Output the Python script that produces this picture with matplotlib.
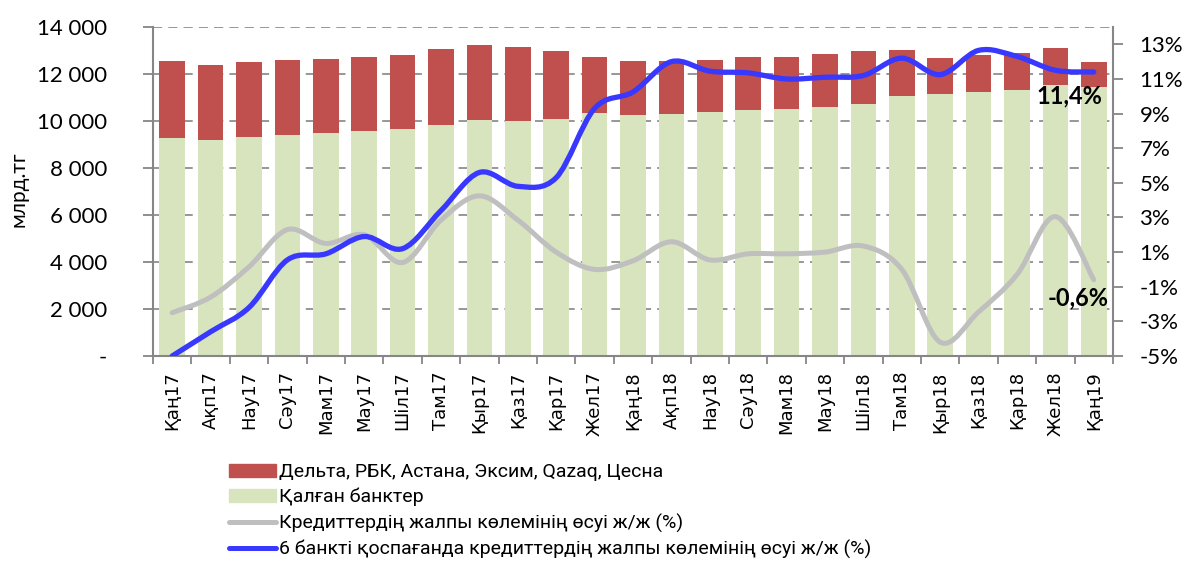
import numpy as np
import matplotlib
matplotlib.use("Agg")
import matplotlib.pyplot as plt
from matplotlib import font_manager
from matplotlib.path import Path
from matplotlib.patches import PathPatch, Patch
from matplotlib.lines import Line2D
from matplotlib.ticker import FuncFormatter

months = ['Қаң17', 'Ақп17', 'Нау17', 'Сәу17', 'Мам17', 'Мау17', 'Шіл17', 'Там17', 'Қыр17',
          'Қаз17', 'Қар17', 'Жел17', 'Қаң18', 'Ақп18', 'Нау18', 'Сәу18', 'Мам18', 'Мау18',
          'Шіл18', 'Там18', 'Қыр18', 'Қаз18', 'Қар18', 'Жел18', 'Қаң19']

# млрд.тг
other_banks = [9290, 9190, 9305, 9390, 9475, 9560, 9660, 9845, 10030, 9985, 10085, 10325, 10270,
               10285, 10370, 10455, 10495, 10595, 10735, 11050, 11150, 11250, 11335, 11520, 11435]
total = [12555, 12385, 12525, 12610, 12625, 12725, 12820, 13065, 13235, 13135, 12965, 12725, 12555,
         12565, 12580, 12725, 12740, 12850, 12965, 13035, 12680, 12795, 12880, 13120, 12500]
six_banks = [t - o for t, o in zip(total, other_banks)]

# %
growth_all = [-2.5, -1.6, 0.15, 2.3, 1.5, 2.0, 0.4, 2.85, 4.25, 2.85, 1.0, 0.0, 0.5,
              1.6, 0.55, 0.9, 0.9, 1.0, 1.35, 0.0, -4.2, -2.45, -0.3, 3.05, -0.6]
growth_ex6 = [-5.0, -3.6, -2.2, 0.55, 0.9, 1.9, 1.2, 3.4, 5.6, 4.8, 5.3, 9.3, 10.25,
              12.0, 11.45, 11.35, 11.0, 11.1, 11.2, 12.2, 11.25, 12.65, 12.3, 11.5, 11.4]

legend_labels = ['Дельта, РБК, Астана, Эксим, Qazaq, Цесна', 'Қалған банктер',
                 'Кредиттердің жалпы көлемінің өсуі ж/ж (%)',
                 '6 банкті қоспағанда кредиттердің жалпы көлемінің өсуі ж/ж (%)']

RED = '#C0504D'
GREEN = '#D7E4BD'
GRAY_LINE = '#BFBFBF'
BLUE = '#3838FF'
AXIS = '#868686'
NUM_FONT = ['Lato', 'DejaVu Sans']

installed = {f.name for f in font_manager.fontManager.ttflist}
if 'Liberation Sans Narrow' in installed:
    LEG_FONT, LEG_SIZE = ['Liberation Sans Narrow', 'DejaVu Sans'], 14.5
else:
    LEG_FONT, LEG_SIZE = ['Roboto', 'DejaVu Sans'], 14


def smooth_path(xs, ys):                     # excel-like smoothed line as bezier segments
    pts = np.column_stack([xs, ys]).astype(float)
    verts = [pts[0]]
    codes = [Path.MOVETO]
    n = len(pts)
    for i in range(n - 1):
        p0 = pts[max(i - 1, 0)]
        p1 = pts[i]
        p2 = pts[i + 1]
        p3 = pts[min(i + 2, n - 1)]
        c1 = p1 + (p2 - p0) / 6.0
        c2 = p2 - (p3 - p1) / 6.0
        verts += [c1, c2, p2]
        codes += [Path.CURVE4] * 3
    return Path(verts, codes)


fig = plt.figure(figsize=(11.85, 5.63), dpi=100)
ax = fig.add_axes([153 / 1185, 1 - 356 / 563, 960 / 1185, 329 / 563])
x = np.arange(len(months))

ax.bar(x, other_banks, width=0.67, color=GREEN, zorder=2)
ax.bar(x, six_banks, bottom=other_banks, width=0.67, color=RED, zorder=2)

ax.set_xlim(-0.5, len(months) - 0.5)
ax.set_ylim(0, 14000)
ax.set_yticks(range(0, 14001, 2000))
ax.yaxis.set_major_formatter(FuncFormatter(lambda v, p: '-' if v == 0 else f'{int(v):,}'.replace(',', ' ')))
ax.yaxis.grid(True, color='#7a7a7a', linestyle=(0, (6, 4)), linewidth=1.1, zorder=0)
ax.set_axisbelow(True)

ax.set_xticks(x)
ax.set_xticklabels(months, rotation=90, fontsize=13, family='DejaVu Sans')
ax.set_xticks(np.arange(-0.5, len(months)), minor=True)
ax.tick_params(axis='x', which='major', length=0, pad=11)
ax.tick_params(axis='x', which='minor', length=6, width=1.3, color=AXIS)
ax.tick_params(axis='y', length=7, width=1.3, color=AXIS, pad=26, labelsize=16)
for lab in ax.get_yticklabels():
    lab.set_family(NUM_FONT)

for s in ['left', 'bottom', 'right']:
    ax.spines[s].set_color(AXIS)
    ax.spines[s].set_linewidth(1.5)
ax.spines['top'].set_visible(False)

ax2 = ax.twinx()
ax2.set_ylim(-5, 14)
ax2.set_yticks(range(-5, 14, 2))
ax2.yaxis.set_major_formatter(FuncFormatter(lambda v, p: f'{int(v)}%'))
ax2.tick_params(axis='y', length=7, width=1.3, color=AXIS, pad=12, labelsize=16)
for lab in ax2.get_yticklabels():
    lab.set_family(NUM_FONT)
for s in ['left', 'bottom', 'right', 'top']:
    ax2.spines[s].set_visible(False)

ax2.add_patch(PathPatch(smooth_path(x, growth_all), facecolor='none', edgecolor=GRAY_LINE,
                        linewidth=3.6, capstyle='round', zorder=3))
ax2.add_patch(PathPatch(smooth_path(x, growth_ex6), facecolor='none', edgecolor=BLUE,
                        linewidth=3.8, capstyle='round', zorder=4))

ax2.annotate('11,4%', (x[-1], growth_ex6[-1]), xytext=(-24, -24), textcoords='offset pixels',
             ha='center', va='center', fontsize=17, fontweight='bold', family=NUM_FONT)
ax2.annotate('-0,6%', (x[-1], growth_all[-1]), xytext=(-16, -18), textcoords='offset pixels',
             ha='center', va='center', fontsize=17, fontweight='bold', family=NUM_FONT)

fig.text(18 / 1185, 1 - 189 / 563, 'млрд.тг', rotation=90, ha='center', va='center',
         fontsize=15, family=NUM_FONT)

handles = [Patch(color=RED), Patch(color=GREEN),
           Line2D([], [], color=GRAY_LINE, linewidth=3.6, solid_capstyle='round'),
           Line2D([], [], color=BLUE, linewidth=3.6, solid_capstyle='round')]
fig.legend(handles, legend_labels, loc='upper left', bbox_to_anchor=(229 / 1185, 1 - 463 / 563),
           frameon=False, prop={'family': LEG_FONT, 'size': LEG_SIZE},
           handlelength=2.4, handleheight=0.65, handletextpad=0.15, labelspacing=0.36,
           borderaxespad=0, borderpad=0)

fig.savefig('out.png', dpi=100)
